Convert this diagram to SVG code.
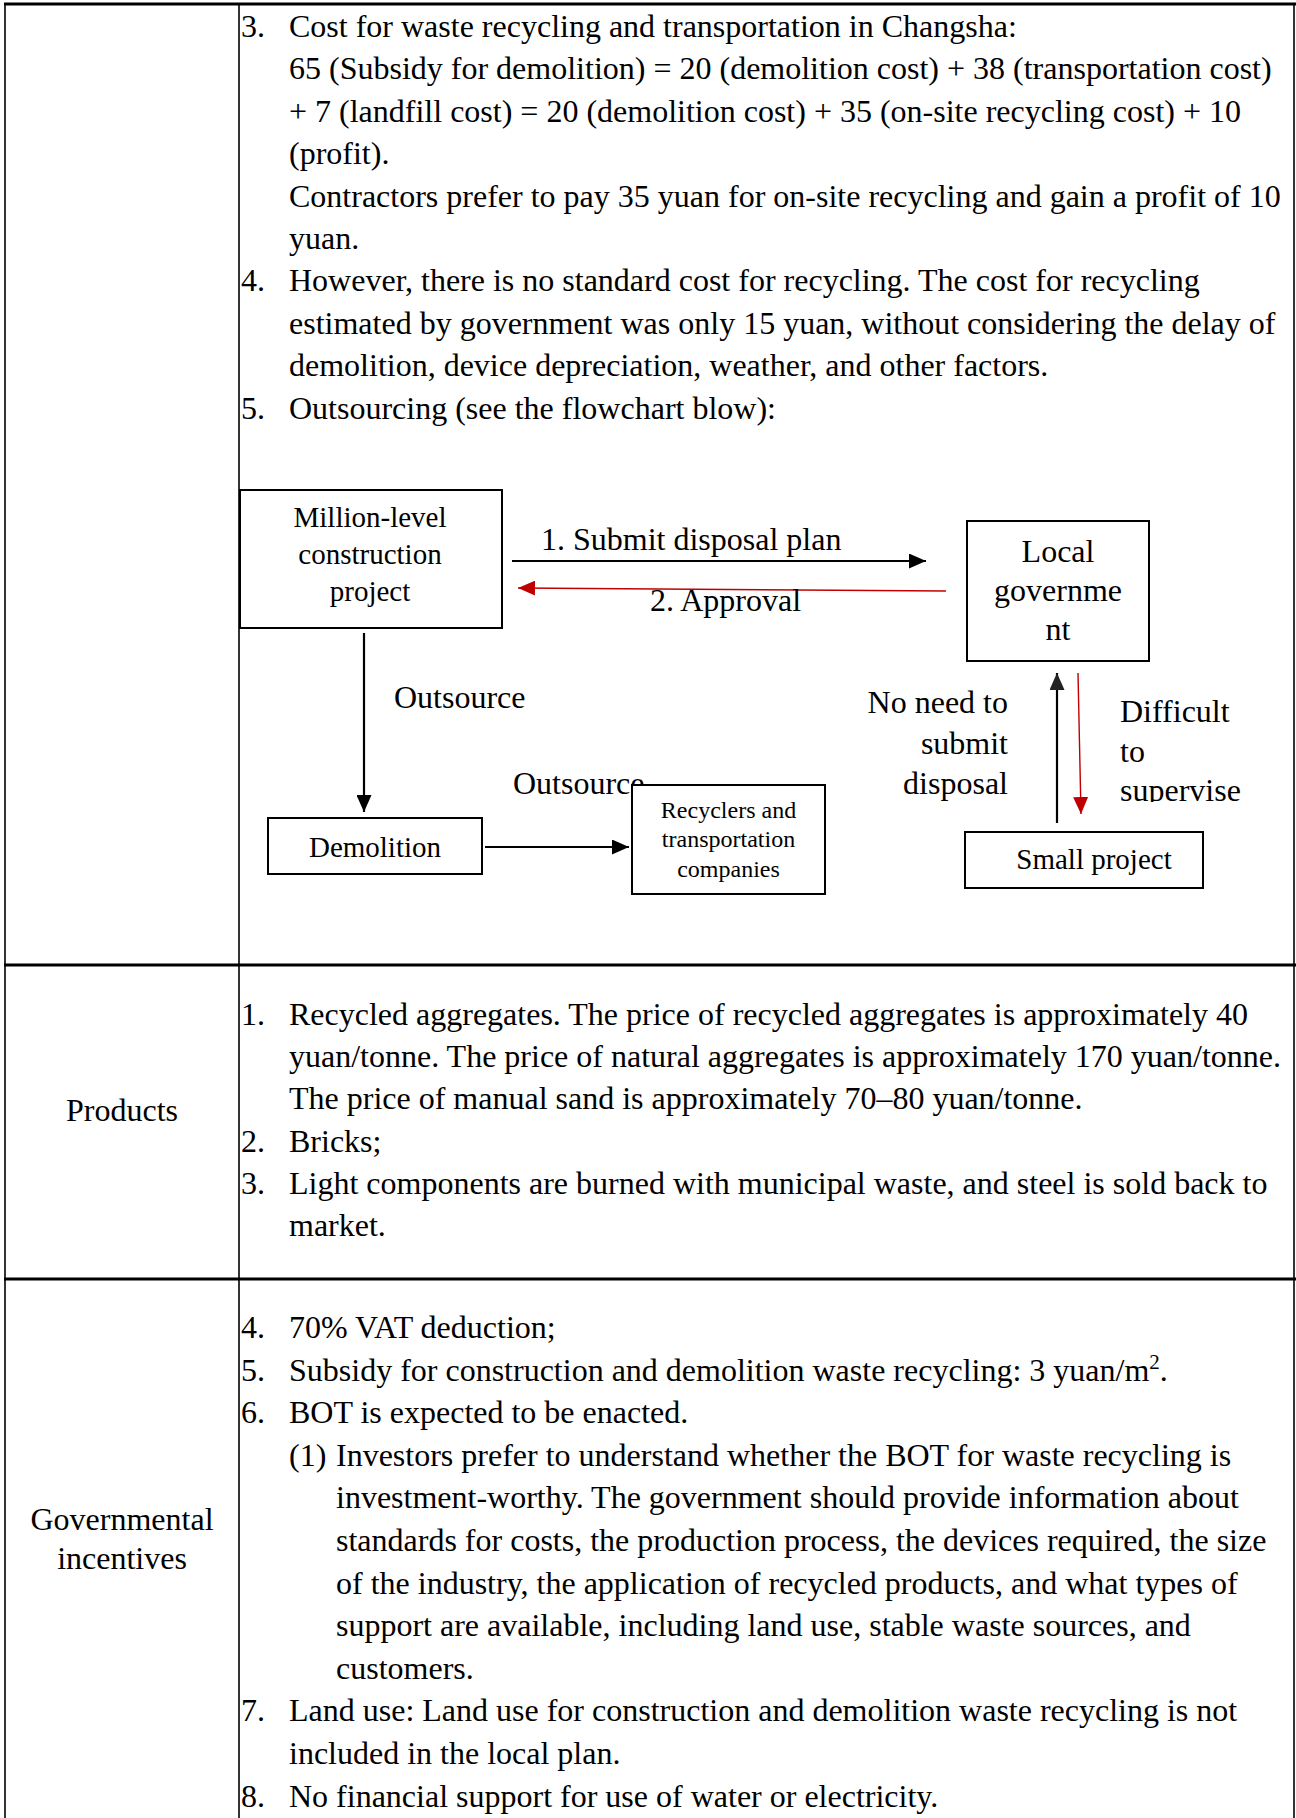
<svg xmlns="http://www.w3.org/2000/svg" width="1296" height="1818" viewBox="0 0 1296 1818">
  <style>
    text { font-family: "Liberation Serif", "Times New Roman", serif; fill: #000; }
    .body { font-size: 32px; }
    .box { fill: #fff; stroke: #000; stroke-width: 2; }
    .grid { stroke: #000; stroke-width: 1.6; }
    .rule { stroke: #000; stroke-width: 3; }
    .blk { stroke: #000; stroke-width: 2.2; fill: none; }
    .red { stroke: #c00000; stroke-width: 1.4; fill: none; }
    .mid { text-anchor: middle; }
    .end { text-anchor: end; }
  </style>
  <defs>
    <marker id="headBlack" viewBox="0 0 17 15" refX="17" refY="7.5" markerWidth="17" markerHeight="15" markerUnits="userSpaceOnUse" orient="auto">
      <path d="M0,0 L17,7.5 L0,15 z" fill="#000"/>
    </marker>
    <marker id="headDark" viewBox="0 0 17 15" refX="17" refY="7.5" markerWidth="17" markerHeight="15" markerUnits="userSpaceOnUse" orient="auto">
      <path d="M0,0 L17,7.5 L0,15 z" fill="#222"/>
    </marker>
    <marker id="headRed" viewBox="0 0 17 15" refX="17" refY="7.5" markerWidth="17" markerHeight="15" markerUnits="userSpaceOnUse" orient="auto">
      <path d="M0,0 L17,7.5 L0,15 z" fill="#c00000"/>
    </marker>
    <clipPath id="clipSupervise">
      <rect x="1100" y="660" width="190" height="142"/>
    </clipPath>
  </defs>

  <rect width="1296" height="1818" fill="#fff"/>

  <!-- table grid -->
  <g id="table">
    <line class="grid" x1="5" y1="3" x2="5" y2="1818"/>
    <line class="grid" x1="239" y1="3" x2="239" y2="1818"/>
    <line class="grid" x1="1294" y1="3" x2="1294" y2="1818"/>
    <line class="rule" x1="4" y1="4" x2="1296" y2="4"/>
    <line class="rule" x1="4" y1="965" x2="1296" y2="965"/>
    <line class="rule" x1="4" y1="1279" x2="1296" y2="1279"/>
  </g>

  <!-- row 1: cost notes -->
  <g id="row-costs" class="body">
    <text x="241" y="37" font-size="32">3.</text>
    <text x="289" y="37" font-size="32">Cost for waste recycling and transportation in Changsha:</text>
    <text x="289" y="79.4" font-size="32">65 (Subsidy for demolition) = 20 (demolition cost) + 38 (transportation cost)</text>
    <text x="289" y="121.8" font-size="32">+ 7 (landfill cost) = 20 (demolition cost) + 35 (on-site recycling cost) + 10</text>
    <text x="289" y="164.2" font-size="32">(profit).</text>
    <text x="289" y="206.6" font-size="32">Contractors prefer to pay 35 yuan for on-site recycling and gain a profit of 10</text>
    <text x="289" y="249" font-size="32">yuan.</text>
    <text x="241" y="291.4" font-size="32">4.</text>
    <text x="289" y="291.4" font-size="32">However, there is no standard cost for recycling. The cost for recycling</text>
    <text x="289" y="333.8" font-size="32">estimated by government was only 15 yuan, without considering the delay of</text>
    <text x="289" y="376.2" font-size="32">demolition, device depreciation, weather, and other factors.</text>
    <text x="241" y="418.6" font-size="32">5.</text>
    <text x="289" y="418.6" font-size="32">Outsourcing (see the flowchart blow):</text>
  </g>

  <!-- flowchart connectors -->
  <g id="connectors">
    <line class="blk" x1="512" y1="561" x2="926" y2="561" marker-end="url(#headBlack)"/>
    <text x="541" y="550" font-size="32">1. Submit disposal plan</text>
    <line class="red" x1="946" y1="591" x2="518" y2="588" marker-end="url(#headRed)"/>
    <text x="650" y="611" font-size="32">2. Approval</text>
    <line class="blk" x1="364" y1="633" x2="364" y2="812" marker-end="url(#headBlack)"/>
    <text x="394" y="708" font-size="32">Outsource</text>
    <line class="blk" x1="485" y1="847" x2="629" y2="847" stroke-width="2.6" marker-end="url(#headBlack)"/>
    <text x="513" y="794" font-size="32">Outsource</text>
    <line class="blk" x1="1057" y1="823" x2="1057" y2="673" stroke="#222" stroke-width="2.6" marker-end="url(#headDark)"/>
    <text class="end" x="1008" y="713" font-size="32">No need to</text>
    <text class="end" x="1008" y="754" font-size="32">submit</text>
    <text class="end" x="1008" y="794" font-size="32">disposal</text>
    <line class="red" x1="1078" y1="673" x2="1081" y2="814" marker-end="url(#headRed)"/>
    <g clip-path="url(#clipSupervise)">
      <text x="1120" y="722" font-size="32">Difficult</text>
      <text x="1120" y="762" font-size="32">to</text>
      <text x="1120" y="801" font-size="32">supervise</text>
    </g>
  </g>

  <!-- flowchart nodes -->
  <g id="node-million">
    <rect class="box" x="240" y="490" width="262" height="138"/>
    <text class="mid" x="370" y="527" font-size="29">Million-level</text>
    <text class="mid" x="370" y="564" font-size="29">construction</text>
    <text class="mid" x="370" y="601" font-size="29">project</text>
  </g>
  <g id="node-government">
    <rect class="box" x="967" y="521" width="182" height="140"/>
    <text class="mid" x="1058" y="562" font-size="32">Local</text>
    <text class="mid" x="1058" y="601" font-size="32">governme</text>
    <text class="mid" x="1058" y="640" font-size="32">nt</text>
  </g>
  <g id="node-demolition">
    <rect class="box" x="268" y="818" width="214" height="56"/>
    <text class="mid" x="375" y="857" font-size="29">Demolition</text>
  </g>
  <g id="node-recyclers">
    <rect class="box" x="632" y="785" width="193" height="109" stroke-width="1.5"/>
    <text class="mid" x="728.5" y="818" font-size="24">Recyclers and</text>
    <text class="mid" x="728.5" y="847" font-size="24">transportation</text>
    <text class="mid" x="728.5" y="877" font-size="24">companies</text>
  </g>
  <g id="node-small">
    <rect class="box" x="965" y="832" width="238" height="56" stroke-width="1.6"/>
    <text class="mid" x="1094" y="869" font-size="29">Small project</text>
  </g>

  <!-- row 2: products -->
  <g id="row-products">
    <text class="mid" x="122" y="1121" font-size="32">Products</text>
    <text x="241" y="1025" font-size="32">1.</text>
    <text x="289" y="1025" font-size="32">Recycled aggregates. The price of recycled aggregates is approximately 40</text>
    <text x="289" y="1067" font-size="32">yuan/tonne. The price of natural aggregates is approximately 170 yuan/tonne.</text>
    <text x="289" y="1109" font-size="32">The price of manual sand is approximately 70–80 yuan/tonne.</text>
    <text x="241" y="1152" font-size="32">2.</text>
    <text x="289" y="1152" font-size="32">Bricks;</text>
    <text x="241" y="1194" font-size="32">3.</text>
    <text x="289" y="1194" font-size="32">Light components are burned with municipal waste, and steel is sold back to</text>
    <text x="289" y="1236" font-size="32">market.</text>
  </g>

  <!-- row 3: governmental incentives -->
  <g id="row-incentives">
    <text class="mid" x="122" y="1530" font-size="32">Governmental</text>
    <text class="mid" x="122" y="1569" font-size="32">incentives</text>
    <text x="241" y="1338" font-size="32">4.</text>
    <text x="289" y="1338" font-size="32">70% VAT deduction;</text>
    <text x="241" y="1380.6" font-size="32">5.</text>
    <text x="289" y="1380.6" font-size="32">Subsidy for construction and demolition waste recycling: 3 yuan/m<tspan font-size="21" dy="-12">2</tspan><tspan dy="12">.</tspan></text>
    <text x="241" y="1423.2" font-size="32">6.</text>
    <text x="289" y="1423.2" font-size="32">BOT is expected to be enacted.</text>
    <text x="289" y="1465.8" font-size="32">(1)</text>
    <text x="336" y="1465.8" font-size="32">Investors prefer to understand whether the BOT for waste recycling is</text>
    <text x="336" y="1508.4" font-size="32">investment-worthy. The government should provide information about</text>
    <text x="336" y="1551" font-size="32">standards for costs, the production process, the devices required, the size</text>
    <text x="336" y="1593.6" font-size="32">of the industry, the application of recycled products, and what types of</text>
    <text x="336" y="1636.2" font-size="32">support are available, including land use, stable waste sources, and</text>
    <text x="336" y="1678.8" font-size="32">customers.</text>
    <text x="241" y="1721.4" font-size="32">7.</text>
    <text x="289" y="1721.4" font-size="32">Land use: Land use for construction and demolition waste recycling is not</text>
    <text x="289" y="1764" font-size="32">included in the local plan.</text>
    <text x="241" y="1806.6" font-size="32">8.</text>
    <text x="289" y="1806.6" font-size="32">No financial support for use of water or electricity.</text>
  </g>
</svg>
